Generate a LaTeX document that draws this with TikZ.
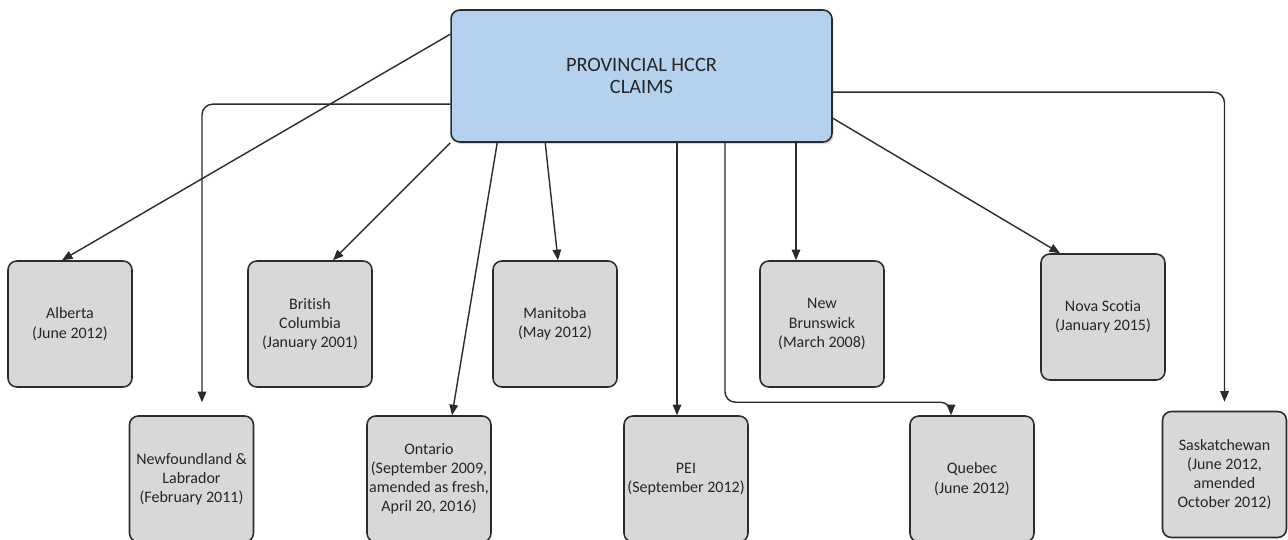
\documentclass[tikz,border=0pt]{standalone}
\usepackage{fontspec}
\setmainfont{Carlito}[Ligatures=NoCommon]
\usepackage{xcolor}
\usetikzlibrary{arrows.meta,positioning,calc,shadows}
\definecolor{hcink}{HTML}{262626}
\definecolor{hcline}{HTML}{2B2B2B}
\definecolor{hcblue}{HTML}{B4D2EE}
\definecolor{hcgray}{HTML}{D8D8D8}

\begin{document}
\begin{tikzpicture}[
  x=0.02cm,y=-0.02cm,
  claims/.style={rounded corners=5pt,draw=hcline,fill=hcblue,line width=0.9pt,
                 minimum width=7.62cm,minimum height=2.64cm,align=center,
                 text=hcink,font=\fontsize{11.6}{12.6}\selectfont,
                 drop shadow={opacity=0.3,shadow xshift=1pt,shadow yshift=-1.2pt}},
  prov/.style={rounded corners=5pt,draw=hcline,fill=hcgray,line width=0.9pt,
               minimum width=2.48cm,minimum height=2.52cm,align=center,inner xsep=1pt,
               text=hcink,font=\fontsize{9.1}{10.9}\selectfont},
  link/.style={-{Triangle[length=2.1mm,width=1.7mm]},color=hcline,line width=0.8pt}
]
\useasboundingbox (0,0) rectangle (1288,540);
\node[claims] (main) at (641.5,76) {PROVINCIAL HCCR\\CLAIMS};

\node[prov] (ab) at (70,324)     {Alberta\\(June 2012)};
\node[prov] (bc) at (310,324)    {British\\Columbia\\(January 2001)};
\node[prov] (mb) at (555,324)    {Manitoba\\(May 2012)};
\node[prov] (nb) at (822,324)    {New\\Brunswick\\(March 2008)};
\node[prov] (ns) at (1103,317)   {Nova Scotia\\(January 2015)};
\node[prov] (nl) at (191.5,479)  {Newfoundland \&\\Labrador\\(February 2011)};
\node[prov] (on) at (429,479)    {Ontario\\(September 2009,\\amended as fresh,\\April 20, 2016)};
\node[prov] (pe) at (686,479)    {PEI\\(September 2012)};
\node[prov] (qc) at (972,479)    {Quebec\\(June 2012)};
\node[prov] (sk) at (1224.5,474.5) {Saskatchewan\\(June 2012,\\amended\\October 2012)};

% left side
\draw[link] ([yshift=-0.5cm]main.north west) -- ([xshift=-0.16cm]ab.north);
\draw[link,rounded corners=6pt] ([yshift=-1.9cm]main.north west)
  -| ([xshift=0.21cm,yshift=0.26cm]nl.north);
\draw[link] (main.south west) -- ([xshift=0.46cm]bc.north);
\draw[link] ([xshift=0.94cm]main.south west) -- ([xshift=0.46cm]on.north);
\draw[link] ([xshift=1.9cm]main.south west) -- ([xshift=0.06cm]mb.north);
% straight down
\draw[link] ([xshift=-0.18cm]pe.north |- main.south) -- ([xshift=-0.18cm]pe.north);
\draw[link,rounded corners=6pt] ([xshift=1.67cm]main.south)
  |- ([xshift=-0.42cm,yshift=0.26cm]qc.north) -- ([xshift=-0.42cm]qc.north);
\draw[link] ([xshift=-0.52cm]nb.north |- main.south) -- ([xshift=-0.52cm]nb.north);
% right side
\draw[link] ([yshift=-2.18cm]main.north east) -- ([xshift=-0.86cm]ns.north);
\draw[link,rounded corners=6pt] ([yshift=-1.66cm]main.north east)
  -| ([yshift=0.18cm]sk.north);
\end{tikzpicture}
\end{document}
